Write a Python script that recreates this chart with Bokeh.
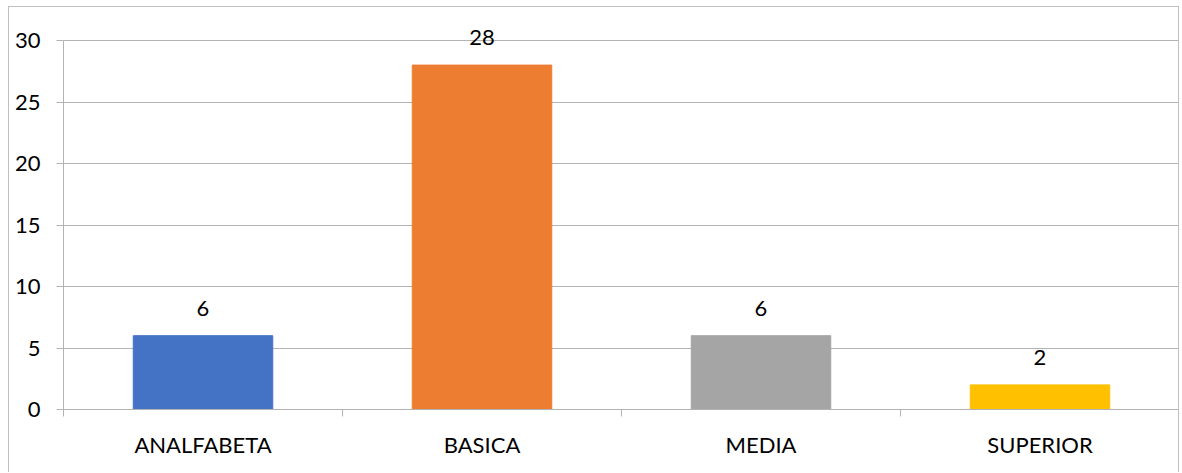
from bokeh.plotting import figure
from bokeh.models import ColumnDataSource, FixedTicker, Range1d, LabelSet
from bokeh.core.properties import value
from bokeh.embed import file_html
from bokeh.resources import INLINE

categories = ["ANALFABETA", "BASICA", "MEDIA", "SUPERIOR"]
values = [6, 28, 6, 2]
colors = ["#4472C4", "#ED7D31", "#A5A5A5", "#FFC000"]
y_ticks = [0, 5, 10, 15, 20, 25, 30]

xs = [i + 0.5 for i in range(len(categories))]
src = ColumnDataSource(dict(x=xs, top=values, color=colors,
                            label=[str(v) for v in values]))

# frame extends above 30 so the top data label is not clipped;
# axis line and ticks stop at 30 via bounds
y_top = 30 * 386 / 369

p = figure(width=1171, height=466, output_backend="svg", toolbar_location=None,
           x_range=Range1d(0, len(categories)), y_range=Range1d(0, y_top),
           min_border_left=54, min_border_top=16, min_border_right=1,
           min_border_bottom=64)
p.styles = {"border": "1px solid #bfbfbf", "border-bottom": "none",
            "margin-left": "8px", "margin-top": "6px"}
p.outline_line_color = None

p.vbar(x="x", top="top", width=0.5, color="color", source=src)

fnt = "Lato"
labels = LabelSet(x="x", y="top", text="label", source=src, text_align="center",
                  text_baseline="bottom", y_offset=20, text_font_size="22px",
                  text_font=value(fnt), text_color="#000000")
p.add_layout(labels)

grid_col = "#b3b3b3"

p.xgrid.grid_line_color = None
p.ygrid.grid_line_color = grid_col
p.ygrid.ticker = FixedTicker(ticks=y_ticks)

xa = p.xaxis[0]
xa.ticker = FixedTicker(ticks=xs, minor_ticks=list(range(len(categories) + 1)))
xa.major_label_overrides = {x: c for x, c in zip(xs, categories)}
xa.major_tick_line_color = None
xa.major_tick_out = 7
xa.minor_tick_line_color = grid_col
xa.minor_tick_out = 7
xa.minor_tick_in = 0
xa.axis_line_color = grid_col
xa.major_label_standoff = 14
xa.major_label_text_font = fnt
xa.major_label_text_font_size = "22px"
xa.major_label_text_color = "#000000"

ya = p.yaxis[0]
ya.ticker = FixedTicker(ticks=y_ticks)
ya.bounds = (0, 30)
ya.major_tick_line_color = grid_col
ya.major_tick_out = 7
ya.major_tick_in = 0
ya.minor_tick_line_color = None
ya.axis_line_color = grid_col
ya.major_label_standoff = 16
ya.major_label_text_font = fnt
ya.major_label_text_font_size = "22px"
ya.major_label_text_color = "#000000"

open("out.html", "w").write(file_html(p, INLINE))
